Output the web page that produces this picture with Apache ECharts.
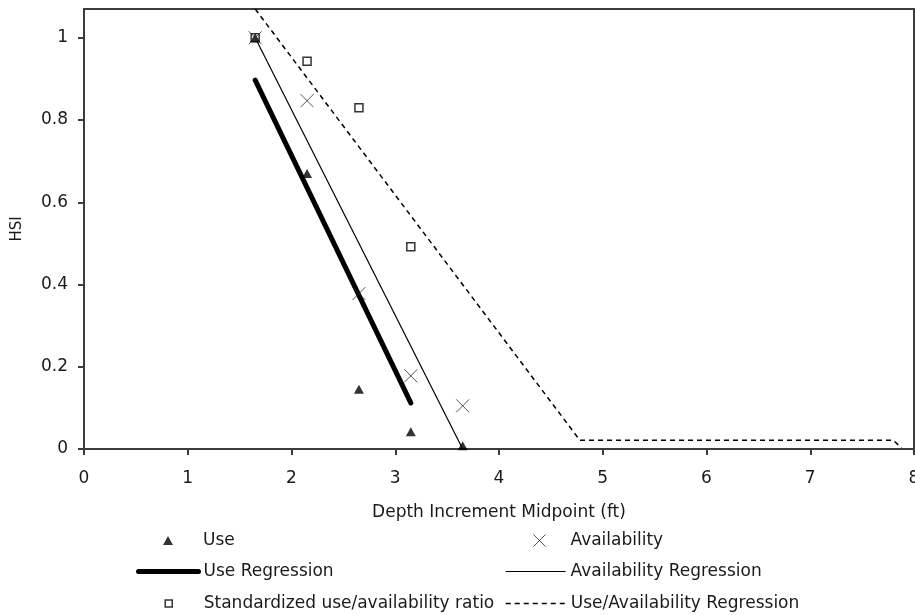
<!DOCTYPE html>
<html>
<head>
<meta charset="utf-8">
<script src="https://cdn.jsdelivr.net/npm/echarts@6/dist/echarts.min.js"></script>
<style>
html,body{margin:0;padding:0;background:#fff;}
#chart{width:915px;height:615px;}
</style>
</head>
<body>
<div id="chart"></div>
<script>
// ---- data ----
var depth = [1.65, 2.15, 2.65, 3.15, 3.65];
var useValues = [1.0, 0.67, 0.145, 0.042, 0.008];
var availValues = [1.0, 0.847, 0.378, 0.178, 0.105];
var ratioDepth = [1.65, 2.15, 2.65, 3.15];
var ratioValues = [1.0, 0.943, 0.83, 0.492];
var useRegX = [1.65, 3.15];
var useRegY = [0.897, 0.112];
var availRegX = [1.65, 3.65];
var availRegY = [1.0, 0.0];
var ratioRegX = [1.65, 4.78, 7.8, 7.88];
var ratioRegY = [1.07, 0.021, 0.021, 0.003];
var xTicks = [0, 1, 2, 3, 4, 5, 6, 7, 8];
var yTicks = [0, 0.2, 0.4, 0.6, 0.8, 1];
var names = ['Use', 'Availability', 'Use Regression', 'Availability Regression',
             'Standardized use/availability ratio', 'Use/Availability Regression'];

function pairs(xs, ys) { return xs.map(function (x, i) { return [x, ys[i]]; }); }

var FONT = 'DejaVu Sans';
var TXT = '#1a1a1a';
var AX = '#3c3c3c';
var crossPath = 'path://M0,0L10,10M10,0L0,10';

function mkLegend(name, left, rowCenter, w, h, spacer, extra) {
  var o = {
    data: [name], left: left, top: rowCenter - 8, itemWidth: w, itemHeight: h,
    padding: 0, orient: 'vertical', selectedMode: false,
    textStyle: { fontFamily: FONT, fontSize: 17, color: TXT, rich: { s: { width: spacer, fontSize: 17 } } },
    formatter: spacer > 0 ? function (n) { return '{s| }' + n; } : '{name}'
  };
  for (var k in extra) o[k] = extra[k];
  return o;
}

var chart = echarts.init(document.getElementById('chart'), null, { renderer: 'canvas' });
var option = {
  animation: false,
  backgroundColor: '#fff',
  grid: { left: 84, right: 1, top: 9, bottom: 166, show: true, borderColor: AX, borderWidth: 2,
          backgroundColor: 'transparent', containLabel: false, outerBoundsMode: 'none' },
  xAxis: {
    type: 'value', min: xTicks[0], max: xTicks[xTicks.length - 1], interval: 1,
    name: 'Depth Increment Midpoint (ft)', nameLocation: 'middle', nameGap: 55,
    nameTextStyle: { fontFamily: FONT, fontSize: 17, color: TXT },
    axisLine: { show: true, onZero: false, lineStyle: { color: AX, width: 2 } },
    axisTick: { show: true, length: 6, lineStyle: { color: AX, width: 2 }, customValues: xTicks },
    axisLabel: { fontFamily: FONT, fontSize: 17, color: TXT, margin: 21, customValues: xTicks, hideOverlap: false },
    splitLine: { show: false }
  },
  yAxis: {
    type: 'value', min: 0, max: 1.07, interval: 0.2,
    name: 'HSI', nameLocation: 'middle', nameGap: 59, nameRotate: 90,
    nameTextStyle: { fontFamily: FONT, fontSize: 15, color: TXT },
    axisLine: { show: true, onZero: false, lineStyle: { color: AX, width: 2 } },
    axisTick: { show: true, length: 6, lineStyle: { color: AX, width: 2 }, customValues: yTicks },
    axisLabel: { fontFamily: FONT, fontSize: 17, color: TXT, margin: 16, customValues: yTicks },
    splitLine: { show: false }
  },
  legend: [
    mkLegend(names[0], 163, 540, 10, 9, 25, {}),
    mkLegend(names[1], 531, 540, 12, 12, 20, { itemStyle: { borderWidth: 1 } }),
    mkLegend(names[2], 136, 571, 60, 14, 0, { lineStyle: { width: 5 }, itemStyle: { opacity: 0 } }),
    mkLegend(names[3], 505, 571, 60, 14, 0, { lineStyle: { width: 1.2 }, itemStyle: { opacity: 0 } }),
    mkLegend(names[4], 164.5, 603, 7, 7, 26.5, { itemStyle: { borderWidth: 1.5 } }),
    mkLegend(names[5], 505, 603, 60, 14, 0, { lineStyle: { width: 1.5, type: [5, 4] }, itemStyle: { opacity: 0 } })
  ],
  series: [
    {
      name: names[3], type: 'line', data: pairs(availRegX, availRegY), symbol: 'none',
      lineStyle: { color: '#000', width: 1.2 }, itemStyle: { color: '#000' }, z: 2
    },
    {
      name: names[5], type: 'line', data: pairs(ratioRegX, ratioRegY), symbol: 'none',
      lineStyle: { color: '#000', width: 1.5, type: [5, 4] }, itemStyle: { color: '#000' }, z: 2
    },
    {
      name: names[2], type: 'line', data: pairs(useRegX, useRegY), symbol: 'none',
      lineStyle: { color: '#000', width: 5, cap: 'round' }, itemStyle: { color: '#000' }, z: 2
    },
    {
      name: names[4], type: 'scatter', data: pairs(ratioDepth, ratioValues), symbol: 'rect', symbolSize: 8,
      itemStyle: { color: '#fff', borderColor: '#000', borderWidth: 1.5 }, z: 3
    },
    {
      name: names[0], type: 'scatter', data: pairs(depth, useValues), symbol: 'triangle', symbolSize: [10, 9],
      itemStyle: { color: '#000' }, z: 4
    },
    {
      name: names[1], type: 'scatter', data: pairs(depth, availValues), symbol: crossPath, symbolSize: 13,
      itemStyle: { color: 'none', borderColor: '#2a2a2a', borderWidth: 1 }, z: 5
    }
  ]
};
chart.setOption(option);
</script>
</body>
</html>
